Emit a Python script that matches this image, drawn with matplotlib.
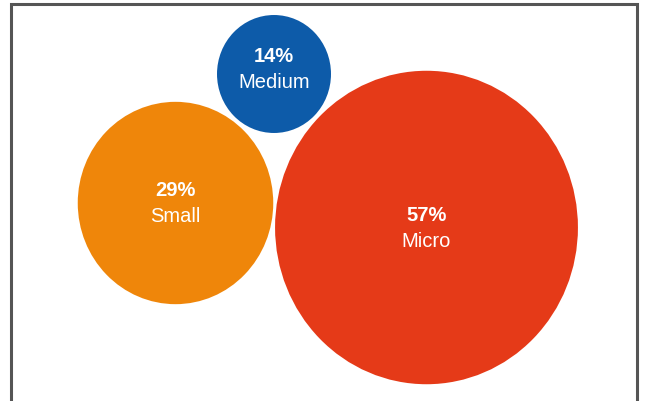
"""Bubble chart: share of firms by size class (Micro / Small / Medium)."""

import matplotlib
matplotlib.use("Agg")
import matplotlib.pyplot as plt
import matplotlib.patches as mpatches

plt.rcParams["font.family"] = ["Liberation Sans", "DejaVu Sans"]

# ---- data ------------------------------------------------------------------
CATEGORIES = ["Medium", "Small", "Micro"]
SHARES = [14, 29, 57]

# ---- layout (pixel space of the 650x402 canvas) ----------------------------
X_POS = [274, 175.5, 426.5]
Y_POS = [75, 204, 228.5]
LABEL_DY = [-5, 0, 0]
COLORS = ["#0D5BA9", "#EF860A", "#E53A18"]
Y_STRETCH = 1.035  # the source image is slightly taller than wide


def radius(v):
    # sqrt bubble scale with an offset range, as in the original
    return 24.8 * v ** 0.5 - 35.8


W, H = 650, 402
fig = plt.figure(figsize=(W / 100, H / 100), dpi=100)
ax = fig.add_axes([0, 0, 1, 1])
ax.set_xlim(0, W)
ax.set_ylim(H, 0)
ax.set_aspect("equal")
ax.axis("off")

# outer frame
ax.add_patch(mpatches.Rectangle((11, 5), 626, 420, linewidth=2.2,
                                edgecolor="#555555", facecolor="white", zorder=0))

for cat, v, x, y, dy, c in zip(CATEGORIES, SHARES, X_POS, Y_POS, LABEL_DY, COLORS):
    r = radius(v)
    ax.add_patch(mpatches.Ellipse((x, y), 2 * r, 2 * r * Y_STRETCH,
                                  facecolor=c, edgecolor="none", zorder=2))
    ax.text(x, y + dy - 13, f"{v}%", ha="center", va="center", color="white",
            fontsize=14.5, fontweight="bold", zorder=3)
    ax.text(x, y + dy + 13, cat, ha="center", va="center", color="white",
            fontsize=14.5, zorder=3)

fig.savefig("out.png", dpi=100)
